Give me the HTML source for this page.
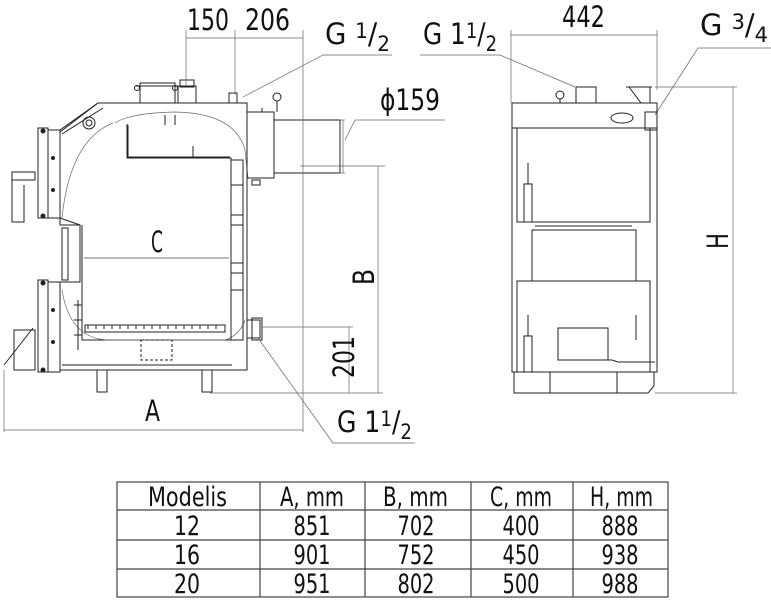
<!DOCTYPE html>
<html><head><meta charset="utf-8"><style>
html,body{margin:0;padding:0;background:#fff;width:771px;height:600px;overflow:hidden}
svg{display:block}
text{font-family:"DejaVu Sans Condensed","Liberation Sans",sans-serif;fill:#111}
</style></head><body>
<svg width="771" height="600" viewBox="0 0 771 600" xmlns="http://www.w3.org/2000/svg">
<g fill="none" stroke="#222" stroke-width="1">
<path d="M98 103 L247 103 L247 370 L60 370 L60 282 L80 282 L80 225 L60 225 L60 132 Z"/>
<path d="M98 103 L60 130"/>
<path d="M103 108 L62 134"/>
<rect x="140" y="83" width="35" height="20"/><line x1="135" y1="86" x2="180" y2="86"/>
<circle cx="137" cy="88" r="2.5"/><circle cx="175" cy="88" r="2.5"/>
<rect x="178" y="86" width="18" height="17"/><rect x="180" y="80" width="14" height="7"/>
<rect x="229" y="93" width="8" height="10"/>
<circle cx="89" cy="123" r="6"/><circle cx="89" cy="123" r="3"/>
<path d="M127 124 L127 158 L231 158 L231 340 L82 340 L82 225"/>
<path d="M128 125 L128 157 L230 157"/>
<line x1="193" y1="146" x2="193" y2="158"/>
<line x1="165" y1="115" x2="165" y2="125"/><line x1="175" y1="115" x2="175" y2="125"/>
<path d="M115 123 Q130 113 175 112 Q235 113 245 150 L248 178" stroke="#666" stroke-width="0.7"/>
<path d="M113 123 Q70 140 62 218" stroke="#666" stroke-width="0.7"/>
<path d="M62 290 Q70 340 110 340 L225 340 Q240 335 245 320" stroke="#666" stroke-width="0.7"/>
<rect x="231" y="160" width="12" height="180"/>
<line x1="231" y1="185" x2="243" y2="185"/><line x1="231" y1="215" x2="243" y2="215"/>
<line x1="231" y1="225" x2="243" y2="225"/><line x1="231" y1="263" x2="243" y2="263"/>
<line x1="231" y1="273" x2="243" y2="273"/><line x1="231" y1="290" x2="243" y2="290"/>
<rect x="85" y="325" width="140" height="7"/>
<path d="M88 325 v4 M96 325 v4 M104 325 v4 M112 325 v4 M120 325 v4 M128 325 v4 M136 325 v4 M144 325 v4 M152 325 v4 M160 325 v4 M168 325 v4 M176 325 v4 M184 325 v4 M192 325 v4 M200 325 v4 M208 325 v4 M216 325 v4"/>
<rect x="141" y="340" width="31" height="20" stroke-dasharray="3 2"/>
<line x1="62" y1="365" x2="232" y2="365"/>
<rect x="97" y="370" width="10" height="22"/><rect x="202" y="370" width="10" height="22"/>
<rect x="38" y="128" width="10" height="90"/><rect x="48" y="130" width="12" height="88"/>
<rect x="38" y="280" width="10" height="92"/><rect x="48" y="282" width="12" height="90"/>
<rect x="62" y="228" width="6" height="52"/>
<path d="M60 218 L80 225"/>
<path d="M12 180 L35 180 L35 172 L12 172 Z M12 180 L12 222 L24 222 L24 185"/>
<path d="M14 330 L35 330 L35 370 L14 370 Z M4 365 L33 328"/>
<path d="M78 300 V350 M74 305 H82 M74 320 H82 M74 335 H82"/>
<rect x="247" y="112" width="27" height="66"/>
<rect x="274" y="120" width="66" height="53"/>
<line x1="262" y1="108" x2="262" y2="112"/><circle cx="277" cy="97" r="4"/><line x1="277" y1="101" x2="277" y2="112"/>
<rect x="252" y="180" width="8" height="5"/>
<rect x="247" y="320" width="13" height="18"/><rect x="252" y="318" width="10" height="22"/>
</g>
<g fill="#222"><circle cx="53" cy="158" r="2"/><circle cx="53" cy="190" r="2"/><circle cx="53" cy="310" r="2"/><circle cx="53" cy="342" r="2"/>
<circle cx="43" cy="131" r="2.5"/><circle cx="43" cy="216" r="2.5"/><circle cx="43" cy="283" r="2.5"/><circle cx="43" cy="370" r="2.5"/></g>

<g fill="none" stroke="#666" stroke-width="0.7">
<line x1="186" y1="30" x2="186" y2="85"/><line x1="235" y1="30" x2="235" y2="95"/><line x1="303" y1="30" x2="303" y2="432"/>
<line x1="186" y1="38" x2="303" y2="38"/>
<path d="M392 55 L323 55 L243 97"/>
<path d="M445 120 L355 120 L345 140"/>
<line x1="340" y1="120" x2="345" y2="120"/><line x1="340" y1="173" x2="345" y2="173"/>
<line x1="343" y1="120" x2="343" y2="173"/>
<line x1="300" y1="166" x2="385" y2="166"/><line x1="378" y1="166" x2="378" y2="393"/>
<line x1="262" y1="327" x2="353" y2="327"/><line x1="349" y1="327" x2="349" y2="393"/>
<line x1="210" y1="393" x2="383" y2="393"/>
<line x1="4" y1="370" x2="4" y2="432"/><line x1="4" y1="430" x2="303" y2="430"/>
<path d="M258 338 L333 443 L415 443"/>
<line x1="511" y1="30" x2="511" y2="103"/><line x1="657" y1="30" x2="657" y2="90"/>
<line x1="511" y1="35" x2="657" y2="35"/>
<path d="M420 55 L500 55 L575 87"/>
<path d="M771 48 L698 48 L655 115"/>
<line x1="655" y1="87" x2="737" y2="87"/><line x1="733" y1="87" x2="733" y2="393"/>
<line x1="655" y1="393" x2="737" y2="393"/>
</g>

<g fill="none" stroke="#222" stroke-width="1">
<rect x="512" y="103" width="145" height="269"/>
<line x1="512" y1="128" x2="657" y2="128"/>
<rect x="517" y="128" width="133" height="94"/>
<rect x="532" y="230" width="104" height="51"/>
<line x1="535" y1="222" x2="632" y2="222"/><line x1="535" y1="226" x2="632" y2="226"/>
<rect x="517" y="281" width="133" height="91"/>
<path d="M514 372 L654 372 L654 386 L648 393 L514 393 L514 386 Z"/>
<line x1="550" y1="372" x2="550" y2="393"/><line x1="617" y1="372" x2="617" y2="393"/>
<rect x="558" y="328" width="50" height="32"/><path d="M558 360 L612 360 L618 362 L655 362"/>
<rect x="524" y="184" width="8" height="38"/><line x1="528" y1="163" x2="528" y2="184"/>
<rect x="524" y="336" width="8" height="36"/><line x1="528" y1="315" x2="528" y2="336"/>
<line x1="636" y1="315" x2="636" y2="340"/>
<rect x="576" y="87" width="20" height="16"/><circle cx="560" cy="95" r="4"/><line x1="560" y1="99" x2="560" y2="103"/>
<ellipse cx="622" cy="118" rx="11" ry="5"/>
<path d="M626 87 L652 87 M629 87 L641 103 M650 87 V103"/>
<rect x="645" y="112" width="12" height="18"/>
</g>

<g font-size="29" lengthAdjust="spacingAndGlyphs">
<text x="187" y="30" textLength="42" lengthAdjust="spacingAndGlyphs">150</text>
<text x="245" y="30" textLength="45" lengthAdjust="spacingAndGlyphs">206</text>
<text x="325" y="44" textLength="65" lengthAdjust="spacingAndGlyphs">G <tspan font-size="21" dy="-6">1</tspan><tspan dy="6">/</tspan><tspan font-size="21" dy="7">2</tspan></text>
<text x="380" y="110" textLength="60" lengthAdjust="spacingAndGlyphs">ϕ159</text>
<text x="423" y="44" textLength="74" lengthAdjust="spacingAndGlyphs">G 1<tspan font-size="21" dy="-6">1</tspan><tspan dy="6">/</tspan><tspan font-size="21" dy="7">2</tspan></text>
<text x="562" y="27" textLength="43" lengthAdjust="spacingAndGlyphs">442</text>
<text x="700" y="35" textLength="68" lengthAdjust="spacingAndGlyphs">G <tspan font-size="21" dy="-6">3</tspan><tspan dy="6">/</tspan><tspan font-size="21" dy="7">4</tspan></text>
<text x="151" y="252" textLength="12" lengthAdjust="spacingAndGlyphs">C</text>
<text x="145" y="421" textLength="15" lengthAdjust="spacingAndGlyphs">A</text>
<text x="337" y="432" textLength="75" lengthAdjust="spacingAndGlyphs">G 1<tspan font-size="21" dy="-6">1</tspan><tspan dy="6">/</tspan><tspan font-size="21" dy="7">2</tspan></text>
<text x="374" y="269" textLength="16" lengthAdjust="spacingAndGlyphs" transform="rotate(-90 382 277)">B</text>
<text x="322" y="368" textLength="42" lengthAdjust="spacingAndGlyphs" transform="rotate(-90 343 357)">201</text>
<text x="711" y="250" textLength="16" lengthAdjust="spacingAndGlyphs" transform="rotate(-90 719 241)">H</text>
</g>
<line x1="84" y1="258" x2="229" y2="258" stroke="#444" stroke-width="0.8"/>

<g fill="none" stroke="#444" stroke-width="1.2">
<rect x="117" y="482" width="551" height="115"/>
<line x1="117" y1="510" x2="668" y2="510"/><line x1="117" y1="540" x2="668" y2="540"/><line x1="117" y1="569" x2="668" y2="569"/>
<line x1="260" y1="482" x2="260" y2="597"/><line x1="365" y1="482" x2="365" y2="597"/><line x1="471" y1="482" x2="471" y2="597"/><line x1="573" y1="482" x2="573" y2="597"/>
</g>
<g font-size="27">
<text x="148" y="506" textLength="79" lengthAdjust="spacingAndGlyphs">Modelis</text>
<text x="280" y="506" textLength="64" lengthAdjust="spacingAndGlyphs">A, mm</text>
<text x="383" y="506" textLength="65" lengthAdjust="spacingAndGlyphs">B, mm</text>
<text x="490" y="506" textLength="62" lengthAdjust="spacingAndGlyphs">C, mm</text>
<text x="590" y="506" textLength="63" lengthAdjust="spacingAndGlyphs">H, mm</text>
<g text-anchor="middle">
<text x="187" y="535" textLength="26" lengthAdjust="spacingAndGlyphs">12</text><text x="312" y="535" textLength="37" lengthAdjust="spacingAndGlyphs">851</text><text x="416" y="535" textLength="37" lengthAdjust="spacingAndGlyphs">702</text><text x="521" y="535" textLength="37" lengthAdjust="spacingAndGlyphs">400</text><text x="620" y="535" textLength="37" lengthAdjust="spacingAndGlyphs">888</text>
<text x="187" y="564" textLength="26" lengthAdjust="spacingAndGlyphs">16</text><text x="312" y="564" textLength="37" lengthAdjust="spacingAndGlyphs">901</text><text x="416" y="564" textLength="37" lengthAdjust="spacingAndGlyphs">752</text><text x="521" y="564" textLength="37" lengthAdjust="spacingAndGlyphs">450</text><text x="620" y="564" textLength="37" lengthAdjust="spacingAndGlyphs">938</text>
<text x="187" y="593" textLength="26" lengthAdjust="spacingAndGlyphs">20</text><text x="312" y="593" textLength="37" lengthAdjust="spacingAndGlyphs">951</text><text x="416" y="593" textLength="37" lengthAdjust="spacingAndGlyphs">802</text><text x="521" y="593" textLength="37" lengthAdjust="spacingAndGlyphs">500</text><text x="620" y="593" textLength="37" lengthAdjust="spacingAndGlyphs">988</text>
</g>
</g>
</svg>
</body></html>
